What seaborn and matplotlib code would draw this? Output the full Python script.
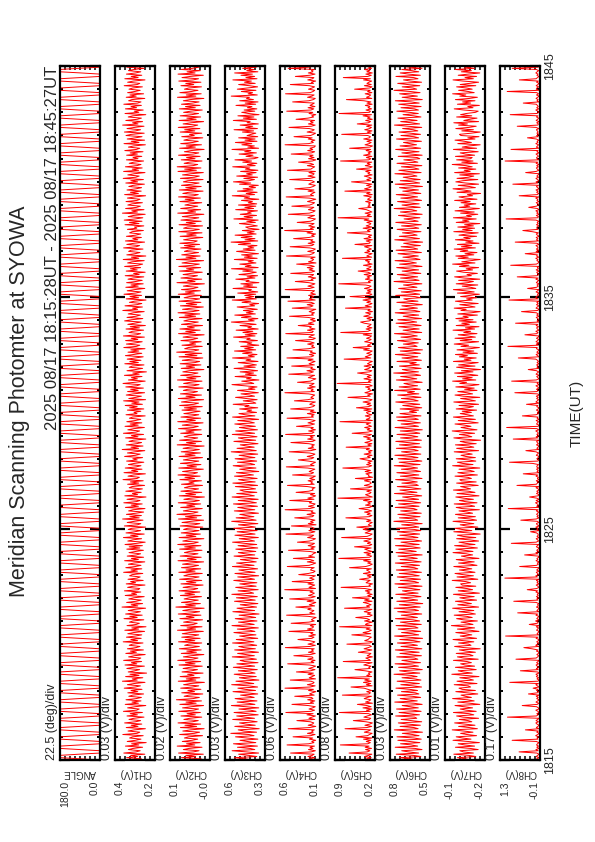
import numpy as np
import pandas as pd
import matplotlib
matplotlib.use("Agg")
import matplotlib.pyplot as plt
import seaborn as sns

sns.set_theme(style="white")
plt.rcParams['font.family'] = ['Liberation Sans', 'DejaVu Sans']

TITLE = "Meridian Scanning Photomter at SYOWA"
PERIOD = "2025 08/17 18:15:28UT - 2025 08/17 18:45:27UT"
TIME_TICKS = [15, 25, 35, 45]          # minutes after 18:00
TIME_LABELS = ["1815", "1825", "1835", "1845"]

PANEL_NAMES = ["ANGLE", "CH1(V)", "CH2(V)", "CH3(V)", "CH4(V)",
               "CH5(V)", "CH6(V)", "CH7(V)", "CH8(V)"]
SCALE_TEXT = ["22.5 (deg)/div", "0.03 (V)/div", "0.02 (V)/div", "0.03 (V)/div",
              "0.06 (V)/div", "0.08 (V)/div", "0.03 (V)/div", "0.01 (V)/div",
              "0.17 (V)/div"]
LEFT_LABELS = ["180.0", "0.4", "0.1", "0.6", "0.6", "0.9", "0.8", "-0.1", "1.3"]
RIGHT_LABELS = ["0.0", "0.2", "-0.0", "0.3", "0.1", "0.2", "0.5", "-0.2", "-0.1"]
# value range of each strip (left edge = max, right edge = min)
LIMITS = [(180, 0), (0.40, 0.20), (0.14, -0.01), (0.56, 0.29), (0.60, 0.10),
          (0.88, 0.21), (0.78, 0.51), (-0.10, -0.20), (1.30, -0.10)]

# scan angle (deg)
ANGLE = [
    0, 85, 180, 180, 180, 95, 0, 0, 0, 90, 180, 180, 180, 90, 0, 0, 0, 85, 180, 180, 180, 95, 0, 0,
    0, 90, 180, 180, 180, 90, 0, 0, 0, 95, 180, 180, 180, 85, 0, 0, 0, 90, 180, 180, 180, 90, 0, 0,
    0, 85, 180, 180, 180, 95, 0, 0, 0, 90, 180, 180, 180, 90, 0, 0, 0, 85, 180, 180, 180, 95, 0, 0,
    0, 90, 180, 180, 180, 90, 0, 0, 0, 95, 180, 180, 180, 85, 0, 0, 0, 90, 180, 180, 180, 90, 0, 0,
    0, 85, 180, 180, 180, 95, 0, 0, 0, 90, 180, 180, 180, 90, 0, 0, 0, 85, 180, 180, 180, 95, 0, 0,
    0, 90, 180, 180, 180, 90, 0, 0, 0, 95, 180, 180, 180, 85, 0, 0, 0, 90, 180, 180, 180, 90, 0, 0,
    0, 85, 180, 180, 180, 95, 0, 0, 0, 90, 180, 180, 180, 90, 0, 0, 0, 85, 180, 180, 180, 95, 0, 0,
    0, 90, 180, 180, 180, 90, 0, 0, 0, 95, 180, 180, 180, 85, 0, 0, 0, 90, 180, 180, 180, 90, 0, 0,
    0, 85, 180, 180, 180, 95, 0, 0, 0, 90, 180, 180, 180, 90, 0, 0, 0, 85, 180, 180, 180, 95, 0, 0,
    0, 90, 180, 180, 180, 90, 0, 0, 0, 95, 180, 180, 180, 85, 0, 0, 0, 90, 180, 180, 180, 90, 0, 0,
    0, 85, 180, 180, 180, 95, 0, 0, 0, 90, 180, 180, 180, 90, 0, 0, 0, 85, 180, 180, 180, 95, 0, 0,
    0, 90, 180, 180, 180, 90, 0, 0, 0, 95, 180, 180, 180, 85, 0, 0, 0, 90, 180, 180, 180, 90, 0, 0,
    0, 85, 180, 180, 180, 95, 0, 0, 0, 90, 180, 180, 180, 90, 0, 0, 0, 85, 180, 180, 180, 95, 0, 0,
    0, 90, 180, 180, 180, 90, 0, 0, 0, 95, 180, 180, 180, 85, 0, 0, 0, 90, 180, 180, 180, 90, 0, 0,
    0, 85, 180, 180, 180, 95, 0, 0, 0, 90, 180, 180, 180, 90, 0, 0, 0, 85, 180, 180, 180, 95, 0, 0,
    0, 90, 180, 180, 180, 90, 0, 0, 0, 95, 180, 180, 180, 85, 0, 0, 0, 90, 180, 180, 180, 90, 0, 0,
    0, 85, 180, 180, 180, 95, 0, 0, 0, 90, 180, 180, 180, 90, 0, 0, 0, 85, 180, 180, 180, 95, 0, 0,
    0, 90, 180, 180, 180, 90, 0, 0, 0, 95, 180, 180, 180, 85, 0, 0, 0, 90, 180, 180, 180, 90, 0, 0,
    0, 85, 180, 180, 180, 95, 0, 0, 0, 90, 180, 180, 180, 90, 0, 0, 0, 85, 180, 180, 180, 95, 0, 0,
    0, 90, 180, 180, 180, 90, 0, 0, 0, 95, 180, 180, 180, 85, 0, 0, 0, 90, 180, 180, 180, 90, 0, 0,
    0, 85, 180, 180, 180, 95, 0, 0, 0, 90, 180, 180, 180, 90, 0, 0, 0, 85, 180, 180, 180, 95, 0, 0,
    0, 90, 180, 180, 180, 90, 0, 0, 0, 95, 180, 180, 180, 85, 0, 0, 0, 90, 180, 180, 180, 90, 0, 0,
    0, 85, 180, 180, 180, 95, 0, 0, 0, 90, 180, 180, 180, 90, 0, 0, 0, 85, 180, 180, 180, 95, 0, 0,
    0, 90, 180, 180, 180, 90, 0, 0, 0, 95, 180, 180, 180, 85, 0, 0, 0, 90, 180, 180, 180, 90, 0, 0,
    0, 85, 180, 180, 180, 95, 0, 0, 0, 90, 180, 180, 180, 90, 0, 0, 0, 85, 180, 180, 180, 95, 0, 0,
]

# photometer channels, in mV
CH1_MV = [
    301, 268, 342, 287, 322, 251, 356, 295, 274, 333, 309, 262, 348, 281, 317, 244, 339, 298, 270, 327,
    312, 259, 361, 290, 276, 335, 303, 248, 344, 285, 319, 266, 352, 297, 272, 330, 306, 255, 340, 288,
    324, 263, 358, 292, 279, 337, 300, 246, 349, 283, 315, 270, 345, 294, 268, 331, 311, 257, 336, 286,
    320, 265, 354, 299, 273, 338, 305, 250, 363, 289, 314, 261, 347, 280, 325, 242, 334, 302, 277, 341,
    308, 253, 350, 291, 318, 267, 357, 284, 271, 332, 304, 249, 346, 293, 323, 258, 338, 296, 275, 329,
    313, 260, 359, 287, 321, 269, 343, 298, 266, 336, 307, 252, 351, 282, 316, 245, 340, 294, 278, 328,
    310, 256, 355, 289, 326, 264, 347, 300, 273, 334, 302, 247, 365, 286, 319, 262, 342, 295, 269, 331,
    306, 254, 349, 292, 317, 271, 353, 284, 276, 337, 309, 250, 344, 297, 322, 259, 335, 290, 274, 327,
    314, 261, 357, 288, 320, 266, 346, 299, 270, 333, 305, 251, 352, 283, 318, 257, 339, 293, 272, 330,
    297, 258, 341, 276, 329, 263, 350, 291, 249, 336, 311, 267, 358, 285, 322, 254, 345, 301, 272, 334,
    316, 247, 353, 288, 271, 339, 304, 260, 362, 279, 326, 268, 343, 296, 257, 332, 310, 250, 348, 283,
    319, 264, 356, 293, 275, 340, 302, 245, 351, 287, 313, 269, 346, 298, 263, 329, 315, 252, 337, 281,
    323, 259, 360, 290, 278, 335, 307, 248, 355, 286, 317, 265, 349, 294, 270, 333, 303, 256, 342, 289,
    311, 262, 352, 297, 274, 338, 300, 251, 364, 282, 320, 260, 344, 292, 267, 330, 308, 246, 347, 285,
    318, 257, 358, 295, 277, 336, 306, 253, 350, 284, 324, 266, 341, 299, 271, 328, 312, 249, 345, 290,
    305, 271, 338, 256, 327, 289, 349, 263, 316, 280, 357, 247, 331, 296, 268, 344, 309, 252, 337, 284,
    322, 258, 346, 291, 274, 360, 301, 249, 333, 288, 318, 265, 353, 279, 311, 243, 340, 297, 262, 329,
    314, 255, 351, 283, 326, 270, 339, 300, 259, 348, 306, 266, 335, 281, 321, 250, 356, 293, 276, 343,
    299, 264, 347, 286, 319, 253, 358, 292, 272, 330, 313, 257, 345, 278, 324, 248, 336, 304, 269, 352,
    317, 261, 340, 295, 273, 334, 308, 254, 361, 287, 312, 263, 350, 290, 266, 328, 303, 245, 344, 282,
    325, 267, 355, 298, 270, 339, 302, 251, 346, 284, 320, 259, 342, 296, 264, 335, 310, 256, 349, 279,
    307, 249, 344, 289, 323, 272, 352, 285, 262, 337, 315, 254, 359, 281, 318, 246, 341, 300, 275, 332,
    320, 260, 357, 294, 277, 341, 305, 252, 348, 286, 311, 268, 343, 297, 271, 327, 314, 258, 338, 291,
    303, 256, 350, 280, 328, 265, 354, 299, 261, 334, 308, 249, 363, 288, 316, 255, 347, 292, 273, 336,
    315, 263, 345, 290, 275, 338, 301, 247, 352, 283, 323, 269, 340, 295, 267, 331, 309, 253, 346, 287,
    321, 258, 359, 296, 279, 336, 304, 250, 357, 282, 314, 264, 348, 291, 270, 329, 306, 257, 343, 285,
    310, 266, 342, 288, 324, 260, 351, 293, 276, 333, 307, 248, 355, 280, 319, 252, 339, 298, 265, 345,
    318, 254, 353, 297, 272, 340, 302, 255, 362, 285, 312, 262, 346, 289, 268, 334, 311, 246, 350, 281,
    304, 259, 348, 292, 320, 268, 356, 287, 270, 332, 316, 251, 344, 294, 325, 257, 337, 301, 274, 330,
    312, 263, 354, 289, 276, 337, 308, 250, 351, 284, 319, 266, 343, 297, 271, 333, 305, 254, 341, 288,
]
CH2_MV = [
    62, 23, 97, 44, 81, 15, 108, 52, 31, 90, 68, 20, 113, 47, 78, 27, 94, 57, 36, 86,
    71, 18, 104, 49, 29, 92, 63, 12, 101, 40, 84, 25, 110, 55, 34, 88, 66, 21, 99, 45,
    76, 26, 107, 51, 33, 93, 60, 14, 103, 42, 80, 22, 116, 53, 30, 87, 69, 17, 96, 48,
    73, 24, 100, 56, 32, 89, 64, 11, 109, 43, 79, 28, 102, 50, 74, 16, 95, 59, 37, 91,
    65, 19, 106, 46, 82, 25, 111, 54, 35, 90, 61, 13, 98, 41, 77, 23, 105, 58, 30, 85,
    70, 21, 108, 47, 83, 27, 96, 55, 32, 94, 67, 15, 112, 44, 76, 20, 100, 52, 38, 89,
    63, 18, 103, 50, 79, 24, 109, 57, 29, 92, 66, 12, 118, 45, 81, 26, 97, 60, 34, 87,
    68, 22, 101, 48, 84, 28, 106, 53, 36, 91, 62, 16, 99, 43, 78, 21, 104, 56, 31, 88,
    72, 19, 107, 46, 80, 25, 97, 54, 33, 93, 64, 14, 110, 42, 75, 23, 102, 59, 35, 86,
    67, 20, 104, 45, 85, 24, 111, 51, 34, 92, 69, 13, 106, 43, 79, 26, 98, 58, 31, 89,
    74, 17, 102, 49, 28, 95, 61, 14, 108, 40, 82, 23, 114, 54, 35, 90, 65, 19, 100, 47,
    77, 25, 109, 52, 30, 88, 62, 11, 105, 44, 81, 21, 99, 56, 33, 86, 70, 18, 97, 50,
    69, 22, 103, 48, 84, 27, 110, 53, 37, 93, 60, 15, 107, 41, 76, 24, 101, 57, 32, 90,
    64, 18, 106, 46, 83, 26, 98, 55, 30, 91, 66, 12, 113, 44, 78, 22, 104, 59, 36, 87,
    71, 21, 100, 50, 80, 23, 108, 52, 34, 94, 63, 16, 111, 45, 77, 25, 99, 56, 32, 88,
    58, 27, 95, 41, 86, 19, 104, 50, 33, 97, 66, 14, 109, 46, 80, 22, 101, 55, 37, 90,
    73, 16, 107, 52, 31, 89, 64, 20, 112, 43, 77, 26, 100, 57, 35, 92, 68, 13, 98, 48,
    79, 24, 102, 47, 29, 94, 60, 17, 106, 39, 83, 21, 115, 51, 32, 85, 71, 19, 95, 44,
    66, 23, 99, 54, 36, 91, 62, 12, 108, 45, 81, 27, 103, 49, 75, 18, 97, 61, 34, 88,
    70, 20, 105, 44, 84, 28, 110, 56, 31, 93, 59, 15, 101, 40, 79, 24, 106, 53, 29, 87,
    68, 22, 109, 49, 82, 26, 97, 52, 35, 90, 65, 11, 114, 46, 74, 21, 99, 58, 37, 91,
    61, 19, 104, 51, 78, 25, 107, 55, 30, 95, 67, 14, 116, 43, 80, 27, 96, 62, 33, 86,
    72, 24, 100, 47, 86, 29, 103, 50, 38, 89, 63, 17, 102, 42, 77, 20, 107, 54, 30, 89,
    75, 18, 106, 45, 79, 23, 99, 57, 32, 94, 61, 13, 111, 44, 73, 25, 100, 60, 36, 84,
    64, 21, 103, 50, 83, 26, 108, 51, 34, 92, 70, 16, 105, 42, 81, 23, 97, 57, 31, 90,
    73, 16, 101, 48, 30, 93, 62, 15, 110, 41, 85, 24, 113, 53, 36, 87, 67, 20, 98, 46,
    78, 27, 108, 53, 32, 86, 61, 12, 104, 45, 79, 22, 100, 55, 34, 88, 69, 17, 96, 49,
    67, 21, 102, 47, 85, 28, 109, 54, 36, 91, 61, 14, 106, 42, 77, 25, 102, 58, 33, 89,
    63, 19, 105, 45, 82, 27, 97, 56, 31, 90, 65, 13, 112, 43, 79, 23, 103, 60, 35, 86,
    70, 22, 99, 51, 81, 24, 107, 53, 33, 95, 64, 15, 110, 46, 76, 26, 98, 55, 31, 87,
]
CH3_MV = [
    368, 421, 497, 345, 402, 468, 333, 415, 512, 359, 391, 476, 341, 428, 503, 352, 409, 459, 338, 417,
    489, 364, 398, 521, 347, 433, 471, 329, 406, 494, 356, 419, 462, 343, 397, 508, 361, 425, 481, 336,
    411, 499, 350, 388, 466, 332, 420, 517, 358, 403, 478, 344, 430, 492, 363, 395, 455, 339, 414, 506,
    354, 424, 473, 340, 400, 515, 366, 418, 486, 331, 408, 463, 349, 436, 498, 357, 392, 470, 342, 423,
    504, 360, 413, 480, 337, 427, 458, 348, 399, 511, 362, 416, 475, 334, 405, 495, 355, 432, 467, 346,
    396, 509, 365, 421, 484, 339, 410, 461, 351, 429, 500, 358, 393, 477, 335, 418, 513, 363, 404, 469,
    344, 426, 491, 353, 398, 465, 330, 412, 507, 360, 431, 479, 347, 401, 457, 338, 422, 496, 356, 409,
    483, 342, 417, 514, 367, 394, 472, 336, 425, 488, 350, 407, 460, 345, 434, 501, 361, 399, 474, 333,
    411, 493, 357, 420, 466, 340, 403, 510, 364, 428, 482, 349, 397, 456, 337, 415, 499, 359, 426, 470,
    352, 418, 487, 339, 405, 472, 346, 430, 509, 361, 396, 464, 335, 421, 493, 357, 411, 478, 343, 426,
    501, 355, 402, 469, 338, 432, 515, 350, 394, 485, 365, 417, 460, 334, 408, 497, 359, 423, 474, 341,
    414, 503, 348, 391, 471, 336, 427, 512, 362, 400, 481, 345, 433, 459, 354, 397, 490, 340, 419, 507,
    356, 425, 468, 343, 409, 496, 368, 415, 483, 332, 404, 461, 351, 438, 505, 360, 390, 476, 346, 420,
    492, 358, 412, 465, 339, 429, 518, 349, 401, 479, 363, 414, 457, 337, 406, 500, 353, 431, 470, 344,
    398, 511, 360, 418, 488, 341, 407, 463, 355, 427, 494, 362, 395, 474, 333, 416, 509, 358, 424, 466,
    347, 412, 380, 461, 339, 426, 398, 505, 352, 371, 437, 343, 419, 489, 361, 394, 452, 335, 408, 476,
    358, 401, 344, 428, 513, 366, 389, 447, 331, 415, 383, 492, 349, 422, 367, 458, 340, 405, 499, 356,
    432, 348, 395, 471, 337, 418, 386, 509, 362, 403, 344, 441, 378, 496, 353, 427, 369, 454, 332, 410,
    379, 464, 341, 413, 390, 502, 357, 424, 345, 439, 372, 485, 336, 406, 381, 459, 350, 421, 517, 363,
    402, 338, 449, 384, 494, 355, 416, 370, 436, 342, 407, 478, 360, 393, 333, 445, 386, 511, 349, 420,
    365, 427, 353, 474, 339, 400, 382, 506, 346, 434, 374, 453, 331, 418, 397, 487, 358, 411, 340, 466,
    391, 349, 440, 372, 516, 336, 423, 384, 460, 351, 404, 369, 497, 343, 429, 376, 448, 334, 415, 482,
    357, 437, 366, 405, 344, 470, 388, 519, 339, 425, 358, 451, 377, 492, 350, 410, 363, 443, 330, 401,
    420, 342, 389, 463, 355, 413, 336, 500, 374, 431, 347, 457, 383, 408, 341, 488, 367, 426, 352, 469,
    346, 403, 375, 449, 332, 430, 394, 511, 360, 417, 343, 476, 371, 438, 354, 397, 335, 462, 386, 503,
    399, 361, 433, 340, 481, 376, 414, 350, 455, 338, 422, 392, 508, 356, 409, 345, 440, 381, 493, 364,
    337, 418, 371, 465, 348, 427, 385, 513, 333, 406, 362, 446, 379, 490, 344, 425, 357, 468, 339, 411,
    384, 352, 442, 367, 499, 341, 420, 373, 458, 335, 411, 390, 504, 348, 436, 365, 473, 330, 401, 447,
    359, 431, 345, 409, 378, 486, 353, 424, 337, 461, 368, 415, 395, 518, 342, 404, 374, 450, 351, 477,
    412, 340, 396, 468, 356, 428, 382, 507, 344, 419, 360, 452, 375, 495, 338, 413, 366, 441, 349, 485,
]
CH4_MV = [
    182, 236, 164, 251, 197, 173, 468, 209, 158, 244, 187, 226, 169, 512, 241, 176, 203, 154, 232, 191,
    437, 218, 162, 257, 184, 205, 171, 498, 229, 153, 248, 195, 178, 221, 389, 166, 239, 201, 157, 263,
    186, 527, 214, 168, 237, 193, 159, 246, 451, 179, 222, 165, 254, 188, 207, 416, 173, 231, 196, 151,
    243, 182, 538, 224, 161, 258, 190, 174, 212, 472, 156, 235, 199, 167, 249, 183, 395, 217, 163, 240,
    192, 155, 228, 504, 177, 211, 162, 253, 186, 198, 427, 219, 160, 245, 181, 206, 172, 533, 227, 158,
    250, 189, 164, 233, 376, 202, 175, 241, 157, 215, 188, 489, 169, 256, 194, 180, 222, 154, 461, 238,
    171, 208, 185, 149, 247, 518, 163, 229, 196, 176, 252, 210, 402, 167, 234, 189, 152, 261, 178, 479,
    216, 160, 243, 199, 170, 225, 187, 541, 156, 238, 204, 166, 250, 183, 448, 213, 174, 230, 192, 158,
    366, 245, 181, 162, 218, 207, 173, 509, 236, 191, 154, 259, 178, 220, 433, 168, 242, 197, 185, 151,
    227, 494, 175, 214, 161, 248, 193, 169, 382, 232, 186, 157, 255, 201, 179, 525, 223, 164, 239, 190,
    172, 206, 457, 150, 246, 184, 218, 163, 237, 416, 195, 177, 262, 159, 211, 188, 536, 228, 170, 244,
    182, 161, 234, 203, 478, 176, 252, 190, 155, 221, 167, 399, 240, 185, 198, 162, 257, 507, 173, 215,
    193, 249, 166, 229, 187, 158, 443, 212, 180, 236, 200, 164, 253, 521, 174, 219, 189, 156, 244, 371,
    208, 178, 260, 194, 163, 231, 485, 216, 153, 247, 181, 205, 170, 238, 464, 192, 160, 254, 186, 223,
    167, 530, 199, 175, 242, 157, 213, 184, 394, 226, 169, 250, 196, 161, 235, 512, 182, 207, 173, 258,
    151, 220, 176, 467, 244, 188, 165, 229, 203, 158, 420, 251, 179, 214, 192, 166, 239, 539, 171, 210,
    185, 256, 160, 233, 197, 174, 381, 218, 189, 152, 246, 206, 168, 491, 227, 183, 263, 159, 215, 194,
    454, 170, 237, 200, 162, 249, 186, 514, 211, 177, 232, 155, 221, 196, 438, 243, 167, 204, 181, 254,
    173, 226, 406, 189, 158, 240, 213, 171, 528, 198, 184, 257, 163, 230, 208, 372, 176, 245, 192, 156,
    219, 165, 248, 481, 182, 205, 169, 236, 194, 153, 447, 223, 187, 260, 172, 211, 501, 160, 234, 199,
    178, 243, 157, 217, 190, 168, 535, 228, 174, 251, 201, 163, 239, 409, 185, 212, 154, 247, 196, 180,
    466, 209, 166, 235, 188, 259, 172, 223, 392, 150, 244, 197, 179, 216, 161, 519, 231, 191, 170, 253,
    184, 158, 227, 473, 202, 176, 248, 164, 215, 189, 430, 237, 171, 206, 155, 262, 194, 542, 181, 222,
    165, 240, 199, 174, 385, 218, 183, 157, 252, 210, 169, 496, 233, 187, 161, 245, 203, 177, 452, 228,
    192, 168, 256, 207, 153, 236, 523, 181, 219, 195, 163, 249, 176, 414, 230, 186, 159, 241, 212, 170,
    200, 479, 224, 162, 250, 188, 173, 238, 157, 507, 214, 193, 166, 258, 180, 221, 368, 197, 152, 243,
    175, 229, 186, 460, 205, 167, 254, 190, 226, 171, 158, 537, 242, 183, 211, 164, 247, 198, 425, 219,
    182, 156, 261, 196, 172, 233, 488, 208, 160, 245, 185, 220, 168, 399, 251, 179, 204, 153, 237, 191,
    516, 214, 177, 249, 163, 225, 195, 171, 442, 238, 184, 159, 256, 202, 174, 531, 222, 187, 166, 244,
    199, 168, 232, 471, 181, 210, 154, 253, 193, 176, 408, 228, 162, 246, 188, 207, 170, 498, 235, 183,
]
CH5_MV = [
    298, 352, 274, 387, 316, 263, 645, 341, 295, 368, 268, 374, 309, 791, 332, 287, 356, 279, 402, 261,
    528, 335, 302, 258, 389, 320, 284, 712, 347, 266, 379, 298, 253, 361, 573, 307, 281, 396, 339, 270,
    318, 806, 290, 354, 262, 412, 276, 344, 505, 253, 368, 307, 281, 391, 339, 270, 757, 311, 286, 349,
    265, 327, 394, 612, 259, 355, 283, 404, 272, 381, 304, 836, 267, 349, 293, 322, 260, 377, 546, 289,
    315, 277, 398, 335, 260, 742, 286, 317, 364, 254, 342, 301, 278, 489, 351, 262, 393, 325, 271, 303,
    681, 296, 255, 383, 328, 304, 271, 364, 598, 282, 410, 313, 269, 357, 291, 803, 264, 371, 336, 257,
    385, 299, 341, 532, 296, 257, 339, 280, 391, 318, 263, 721, 299, 352, 275, 327, 406, 260, 384, 306,
    587, 273, 331, 258, 345, 294, 372, 267, 377, 778, 285, 312, 252, 360, 329, 291, 468, 321, 276, 340,
    261, 405, 288, 315, 352, 270, 637, 364, 297, 256, 333, 279, 401, 287, 816, 302, 267, 349, 283, 394,
    259, 326, 382, 274, 553, 306, 263, 338, 285, 397, 311, 268, 769, 343, 291, 258, 375, 322, 279, 408,
    314, 515, 270, 322, 295, 257, 351, 280, 366, 698, 308, 261, 343, 289, 385, 266, 330, 477, 301, 255,
    369, 287, 330, 264, 402, 291, 832, 256, 311, 369, 297, 276, 347, 268, 621, 319, 262, 388, 306, 273,
    293, 386, 275, 539, 252, 324, 308, 362, 262, 375, 286, 407, 749, 316, 265, 350, 281, 330, 259, 364,
    462, 290, 336, 260, 392, 277, 321, 258, 356, 303, 694, 272, 330, 263, 379, 300, 256, 345, 285, 401,
    309, 270, 593, 328, 255, 341, 292, 383, 269, 315, 357, 281, 797, 254, 357, 301, 291, 373, 264, 337,
    352, 278, 397, 263, 521, 319, 271, 346, 284, 410, 297, 259, 365, 663, 289, 334, 253, 379, 310, 268,
    329, 295, 368, 257, 305, 844, 279, 322, 262, 395, 287, 341, 271, 356, 502, 301, 263, 384, 314, 283,
    392, 266, 337, 300, 255, 358, 727, 280, 373, 316, 268, 349, 291, 257, 401, 303, 576, 272, 336, 289,
    260, 383, 310, 274, 352, 293, 269, 407, 264, 784, 327, 284, 359, 262, 340, 298, 275, 389, 451, 306,
    271, 344, 257, 398, 312, 283, 366, 253, 329, 290, 705, 268, 374, 301, 260, 347, 285, 411, 274, 332,
    628, 299, 262, 355, 279, 338, 261, 386, 307, 275, 363, 818, 288, 321, 254, 371, 296, 343, 267, 392,
    281, 326, 492, 264, 350, 294, 277, 404, 258, 333, 302, 369, 281, 756, 266, 348, 310, 259, 381, 297,
    343, 270, 317, 385, 263, 546, 304, 288, 357, 256, 394, 278, 322, 265, 361, 673, 292, 337, 273, 409,
    264, 358, 298, 279, 346, 255, 391, 313, 829, 269, 342, 286, 376, 261, 309, 354, 482, 276, 330, 294,
    319, 284, 367, 260, 335, 300, 272, 398, 257, 349, 291, 715, 266, 384, 305, 274, 352, 262, 395, 603,
    283, 347, 271, 312, 389, 258, 329, 296, 365, 276, 519, 302, 257, 373, 288, 340, 265, 787, 317, 279,
    354, 263, 401, 289, 326, 268, 359, 282, 635, 297, 253, 377, 310, 274, 345, 261, 399, 303, 287, 331,
    768, 275, 340, 260, 382, 299, 270, 351, 263, 507, 321, 284, 366, 256, 338, 292, 410, 269, 812, 305,
    286, 361, 267, 327, 294, 372, 258, 344, 279, 396, 689, 264, 353, 308, 281, 375, 262, 334, 290, 552,
    302, 259, 388, 273, 345, 311, 266, 402, 287, 741, 330, 272, 363, 255, 347, 296, 383, 268, 318, 277,
]
CH6_MV = [
    598, 641, 716, 572, 623, 738, 587, 655, 701, 564, 612, 745, 593, 636, 709, 578, 649, 727, 569, 618,
    733, 584, 628, 697, 561, 645, 751, 590, 617, 712, 575, 659, 724, 566, 633, 705, 599, 614, 742, 581,
    652, 719, 570, 626, 736, 589, 643, 698, 563, 620, 748, 596, 661, 711, 573, 630, 729, 585, 609, 703,
    594, 647, 740, 567, 625, 707, 582, 654, 732, 571, 613, 699, 597, 639, 753, 579, 658, 715, 562, 621,
    722, 588, 632, 746, 574, 648, 700, 592, 615, 735, 568, 640, 713, 583, 662, 744, 565, 627, 706, 595,
    637, 730, 577, 619, 714, 560, 651, 749, 586, 629, 702, 573, 644, 725, 591, 611, 739, 569, 656, 710,
    580, 624, 743, 595, 638, 704, 566, 650, 728, 588, 616, 752, 576, 642, 717, 559, 631, 734, 593, 646,
    708, 571, 622, 741, 590, 657, 696, 578, 635, 723, 564, 648, 747, 587, 612, 711, 574, 660, 731, 583,
    627, 718, 568, 639, 737, 592, 615, 704, 581, 653, 744, 570, 629, 712, 596, 641, 726, 563, 650, 739,
    603, 652, 721, 576, 629, 743, 583, 650, 706, 567, 618, 749, 591, 633, 714, 580, 654, 730, 572, 615,
    736, 586, 623, 701, 563, 648, 754, 593, 612, 716, 577, 655, 727, 569, 636, 708, 597, 619, 745, 584,
    649, 722, 573, 630, 739, 587, 640, 695, 566, 623, 750, 598, 657, 713, 571, 634, 731, 589, 606, 700,
    596, 651, 742, 564, 628, 710, 585, 652, 734, 574, 610, 703, 594, 643, 751, 577, 655, 718, 565, 618,
    725, 591, 635, 747, 572, 645, 702, 590, 618, 737, 570, 637, 716, 581, 659, 741, 568, 624, 709, 592,
    634, 733, 579, 616, 711, 562, 653, 746, 588, 626, 705, 575, 641, 728, 589, 614, 736, 571, 652, 713,
    601, 648, 587, 712, 566, 633, 694, 579, 657, 741, 590, 619, 703, 571, 640, 728, 585, 662, 615, 749,
    576, 631, 718, 594, 652, 686, 563, 627, 737, 599, 644, 708, 574, 613, 755, 588, 659, 697, 570, 638,
    716, 582, 646, 603, 733, 568, 625, 699, 592, 656, 744, 575, 629, 711, 561, 650, 724, 597, 617, 690,
    589, 664, 730, 573, 621, 706, 596, 642, 750, 566, 634, 692, 583, 655, 719, 570, 626, 739, 600, 645,
    727, 567, 639, 691, 586, 660, 745, 578, 614, 713, 595, 649, 700, 562, 632, 734, 591, 658, 687, 574,
    611, 742, 580, 628, 704, 569, 651, 722, 598, 637, 689, 565, 646, 753, 584, 620, 709, 593, 663, 731,
    572, 636, 698, 587, 661, 735, 564, 624, 715, 602, 647, 746, 577, 612, 693, 589, 654, 726, 568, 630,
    739, 593, 622, 705, 575, 643, 688, 560, 653, 748, 581, 635, 717, 597, 628, 696, 571, 665, 732, 586,
    618, 702, 569, 648, 741, 590, 626, 685, 578, 657, 723, 563, 641, 710, 599, 633, 752, 576, 645, 699,
    583, 660, 729, 567, 615, 707, 594, 650, 738, 572, 627, 694, 588, 663, 716, 561, 639, 745, 580, 621,
    711, 576, 644, 691, 598, 632, 747, 570, 658, 720, 585, 616, 703, 565, 649, 733, 592, 624, 687, 579,
    596, 725, 563, 637, 700, 584, 661, 742, 573, 629, 712, 601, 645, 689, 568, 653, 736, 587, 618, 706,
    574, 641, 719, 592, 623, 695, 566, 656, 750, 580, 634, 708, 597, 662, 727, 571, 620, 692, 589, 647,
    734, 588, 614, 706, 570, 651, 721, 583, 638, 744, 562, 630, 698, 595, 657, 715, 577, 643, 753, 600,
    625, 698, 579, 660, 728, 567, 642, 689, 591, 619, 740, 575, 654, 711, 586, 633, 701, 564, 648, 722,
]
CH7_MV = [
    -168, -152, -131, -177, -159, -122, -171, -146, -137, -183, -163, -126, -174, -149, -133, -186, -157, -120, -165, -144,
    -128, -179, -155, -139, -170, -147, -118, -181, -161, -134, -175, -150, -124, -167, -158, -136, -184, -145, -129, -172,
    -160, -121, -178, -153, -138, -169, -148, -125, -187, -162, -132, -173, -156, -119, -166, -151, -140, -182, -154, -127,
    -176, -143, -135, -164, -158, -123, -180, -149, -130, -171, -160, -137, -185, -152, -117, -168, -146, -133, -178, -157,
    -126, -174, -150, -139, -166, -155, -121, -183, -147, -131, -170, -162, -128, -176, -153, -136, -188, -148, -124, -165,
    -159, -134, -172, -145, -120, -179, -156, -138, -167, -151, -127, -185, -163, -131, -174, -149, -116, -170, -158, -140,
    -181, -146, -129, -168, -154, -123, -176, -161, -135, -172, -144, -119, -184, -157, -132, -166, -150, -126, -179, -153,
    -137, -173, -148, -121, -186, -160, -133, -169, -155, -127, -177, -143, -139, -164, -152, -118, -182, -159, -130, -171,
    -145, -125, -175, -157, -136, -167, -150, -122, -180, -163, -134, -173, -147, -128, -185, -156, -141, -169, -153, -120,
    -170, -148, -127, -181, -156, -124, -175, -152, -135, -184, -161, -129, -177, -145, -131, -188, -159, -122, -167, -142,
    -125, -182, -153, -138, -172, -149, -120, -179, -163, -133, -176, -147, -126, -169, -155, -135, -186, -143, -128, -174,
    -162, -123, -180, -151, -136, -171, -146, -127, -185, -160, -130, -175, -158, -121, -164, -153, -139, -183, -156, -129,
    -178, -141, -137, -166, -157, -125, -181, -150, -132, -173, -162, -135, -187, -154, -119, -170, -144, -131, -177, -159,
    -128, -176, -152, -140, -168, -153, -123, -184, -149, -129, -172, -160, -126, -178, -151, -138, -189, -146, -122, -167,
    -157, -136, -174, -143, -118, -180, -158, -140, -165, -149, -125, -183, -161, -133, -176, -147, -121, -171, -156, -138,
    -166, -143, -179, -128, -157, -171, -135, -184, -150, -122, -176, -161, -139, -187, -146, -125, -169, -155, -132, -180,
    -149, -173, -127, -162, -185, -137, -154, -119, -177, -144, -168, -131, -182, -158, -124, -170, -141, -189, -153, -129,
    -175, -134, -160, -183, -121, -165, -148, -178, -136, -156, -126, -181, -145, -172, -130, -163, -186, -140, -159, -123,
    -152, -184, -138, -167, -125, -176, -157, -133, -180, -147, -164, -120, -174, -151, -185, -128, -161, -142, -178, -135,
    -170, -127, -158, -145, -181, -132, -166, -188, -140, -153, -123, -175, -160, -137, -183, -149, -126, -168, -154, -179,
    -139, -162, -186, -131, -173, -150, -121, -177, -164, -143, -182, -128, -157, -171, -134, -187, -148, -124, -166, -155,
    -181, -146, -129, -169, -153, -184, -136, -160, -119, -175, -142, -165, -188, -133, -158, -127, -172, -150, -180, -138,
    -157, -123, -176, -141, -167, -131, -185, -152, -170, -126, -163, -147, -179, -135, -155, -183, -122, -168, -144, -174,
    -132, -171, -149, -187, -128, -160, -144, -178, -121, -166, -154, -182, -139, -173, -125, -158, -186, -136, -162, -148,
    -177, -140, -163, -124, -180, -151, -135, -169, -156, -189, -130, -165, -146, -120, -176, -161, -133, -184, -152, -127,
    -145, -182, -130, -159, -172, -137, -186, -124, -163, -148, -177, -134, -168, -153, -118, -181, -142, -170, -129, -164,
    -168, -126, -174, -151, -138, -183, -155, -121, -179, -143, -160, -188, -132, -166, -149, -125, -175, -157, -185, -140,
    -136, -165, -188, -142, -171, -127, -160, -178, -134, -156, -122, -184, -147, -162, -180, -129, -167, -139, -153, -176,
    -183, -148, -123, -170, -157, -186, -131, -164, -144, -175, -126, -161, -181, -137, -152, -119, -173, -158, -134, -168,
    -154, -129, -177, -138, -162, -184, -145, -120, -171, -150, -179, -133, -158, -187, -141, -166, -125, -174, -149, -182,
]
CH8_MV = [
    -42, 18, -67, 35, -21, -58, 9, 634, -35, 44, -71, 12, -49, 22, -12, -63, 31, 876, -28, 5,
    -54, 51, -18, -77, 13, -40, 412, -61, 29, -25, -69, 3, 46, -47, 38, -15, -73, 1040, 26, -36,
    11, -66, -28, 47, -58, -44, 19, 523, -8, -52, 40, -20, -64, 16, -39, 32, -70, 305, -11, -56,
    21, -33, 142, -62, -8, 45, -45, 958, -27, -68, 6, -50, 28, -23, 42, -59, -14, 588, -37, 28,
    -72, -4, 37, -46, 19, -31, -65, 742, 34, -19, -53, 10, -41, -75, 24, -29, 183, 465, -60, 48,
    -9, -57, 15, -43, -66, 37, -24, 1105, -51, 2, -34, -69, 20, -16, -48, 31, -63, 276, -6, -38,
    55, -72, 14, -26, -55, 41, -17, 682, -61, 8, -32, -70, 25, -45, -13, -59, 36, 819, -28, 12,
    -67, 26, -39, -2, -54, 43, -18, 347, 12, -55, -28, 33, -64, 5, -37, 27, -71, 1131, -10, 45,
    -47, -19, 30, -66, 17, -33, -60, 611, 21, -42, -5, -74, 39, -26, 8, -58, -40, 439, -23, 43,
    -69, 15, -35, -63, 28, -8, -57, 905, 36, -48, -17, 34, -65, 6, -38, -30, 19, 230, -61, 11,
    -30, 46, -72, -3, 25, -48, -17, 572, 34, -65, 6, -38, 19, -14, -51, 28, -35, 1012, -63, 15,
    -44, -8, 57, -57, 36, -69, 12, 264, -29, -67, 23, -41, 13, -60, -34, 40, -70, 708, 29, -12,
    -50, 31, -62, -7, -45, 38, -25, 486, -68, 4, -39, 20, -53, 16, -2, -46, 160, 967, -21, -60,
    13, -34, -70, 29, -12, -50, 42, 395, -57, 9, -31, -66, 24, -44, -3, 17, -61, 837, -27, 33,
    -73, 10, -40, -19, 48, -54, 7, 1068, -36, -62, 22, -15, -47, 35, -69, 1, -28, 517, 39, -52,
    -11, -64, 27, -33, -58, 14, -23, 373, -70, 44, -6, -49, 18, -37, 30, -66, -15, 781, 9, -42,
    24, -56, -20, 41, -68, -1, -43, 893, 32, -59, -26, 15, -72, 37, -9, -50, 21, 311, -64, 7,
    -35, 19, -61, 3, -46, -13, 50, 659, -54, -22, 36, -67, 11, -31, -58, 26, -4, 1024, -45, 30,
    -66, 40, -16, -52, 23, -38, -71, 428, 8, -29, 45, -60, -7, 17, -48, 34, -24, 756, -69, 2,
    -53, -25, 33, -64, 14, -41, 27, 547, -18, -70, 39, -5, -57, 22, -36, 10, -62, 985, -30, 46,
    31, -47, -9, -67, 38, -21, -55, 334, 18, -40, 4, -63, 28, -14, -52, 43, -33, 697, -2, -59,
    -20, 15, -71, 35, -44, -6, -60, 926, 25, -37, -65, 9, -27, 47, -53, 19, -12, 418, -68, 36,
    -58, 27, -32, -15, 41, -62, 5, 768, -48, 20, -24, 34, -69, -8, 30, -43, 170, 501, -36, 12,
    8, -66, 23, -39, -1, -56, 38, 1087, -19, -45, 29, -72, 14, -30, 44, -61, -11, 294, 26, -50,
    -37, 33, -58, 6, -26, 49, -64, 629, -4, -52, 17, -35, 40, -67, -13, 24, -46, 851, -22, 37,
    -63, -14, 42, -49, 11, -31, -70, 402, 32, -57, -7, 28, -41, 15, -65, 36, -20, 1122, -54, 3,
    21, -42, -18, 39, -60, 7, -33, 915, -66, 25, -11, -48, 45, -27, 2, -56, 31, 339, -39, 18,
    -71, 9, -36, -3, 26, -59, 40, 697, -23, -44, 14, -68, 35, -16, -51, 22, -30, 943, 10, -64,
    -28, 47, -55, 16, -40, -9, 29, 486, -62, 4, -35, 38, -19, -70, 23, -47, 12, 1049, -58, 30,
    13, -53, 34, -24, -67, 20, -42, 623, 37, -15, -61, 8, -32, 46, -5, -50, 27, 873, -38, -12,
]

SERIES = [np.array(ANGLE, dtype=float)] + [
    np.array(v) / 1000.0 for v in
    [CH1_MV, CH2_MV, CH3_MV, CH4_MV, CH5_MV, CH6_MV, CH7_MV, CH8_MV]
]

# ---- page layout (pixel units of the 595x842 page) ----
W, H = 595, 842
TOP, BOT = 66, 760
X0, STEP, PW = 60, 55, 40

fig = plt.figure(figsize=(W / 100, H / 100), dpi=100)
fig.patch.set_facecolor("white")

def fy(y):
    return 1 - y / H

for i, name in enumerate(PANEL_NAMES):
    left = X0 + STEP * i
    ax = fig.add_axes([left / W, fy(BOT), PW / W, (BOT - TOP) / H])
    vals = SERIES[i]
    # samples evenly spaced over the 30 minute window
    times = np.linspace(TIME_TICKS[0], TIME_TICKS[-1], len(vals))
    df = pd.DataFrame({"time": times, "value": vals})
    sns.lineplot(data=df, x="value", y="time", sort=False, estimator=None,
                 orient="y", color="#ff0000", lw=0.7, ax=ax)
    lo, hi = LIMITS[i]
    ax.set_xlim(lo, hi)
    ax.set_ylim(TIME_TICKS[0], TIME_TICKS[-1])
    ax.set_xlabel("")
    ax.set_ylabel("")
    ax.set_xticks(np.linspace(lo, hi, 9))
    ax.set_yticks(TIME_TICKS)
    ax.set_yticks(np.arange(TIME_TICKS[0], TIME_TICKS[-1] + 1), minor=True)
    ax.tick_params(axis="x", which="major", direction="in", top=True, bottom=True,
                   length=3, width=1.1, color="black",
                   labelbottom=False, labeltop=False)
    ax.tick_params(axis="y", which="major", direction="in", left=True, right=True,
                   length=7, width=1.6, color="black", labelleft=False,
                   labelright=(i == len(PANEL_NAMES) - 1), pad=3, labelsize=9)
    ax.tick_params(axis="y", which="minor", direction="in", left=True, right=True,
                   length=2.5, width=1.4, color="black")
    if i == len(PANEL_NAMES) - 1:
        ax.set_yticklabels(TIME_LABELS, rotation=90, va="center")
    for sp in ax.spines.values():
        sp.set_visible(True)
        sp.set_color("black")
        sp.set_linewidth(1.6)
    ax.set_facecolor("white")
    ax.grid(False)

    # labels below each strip
    fig.text((left + PW / 2) / W, fy(773), name, rotation=180,
             ha="center", va="center", fontsize=7)
    fig.text(left / W, fy(781), LEFT_LABELS[i], rotation=90,
             ha="left", va="top", fontsize=7.5)
    fig.text((left + PW) / W, fy(781), RIGHT_LABELS[i], rotation=90,
             ha="right", va="top", fontsize=7.5)
    fig.text((left - 2) / W, fy(BOT), SCALE_TEXT[i], rotation=90,
             ha="right", va="bottom", fontsize=9)

fig.text(20 / W, fy(401), TITLE, rotation=90, ha="center", va="center", fontsize=15.5)
fig.text(53 / W, fy(TOP), PERIOD, rotation=90, ha="center", va="top", fontsize=12)
fig.text(577 / W, fy(413), "TIME(UT)", rotation=90, ha="center", va="center", fontsize=11)

fig.savefig("out.png", dpi=100, facecolor="white")
